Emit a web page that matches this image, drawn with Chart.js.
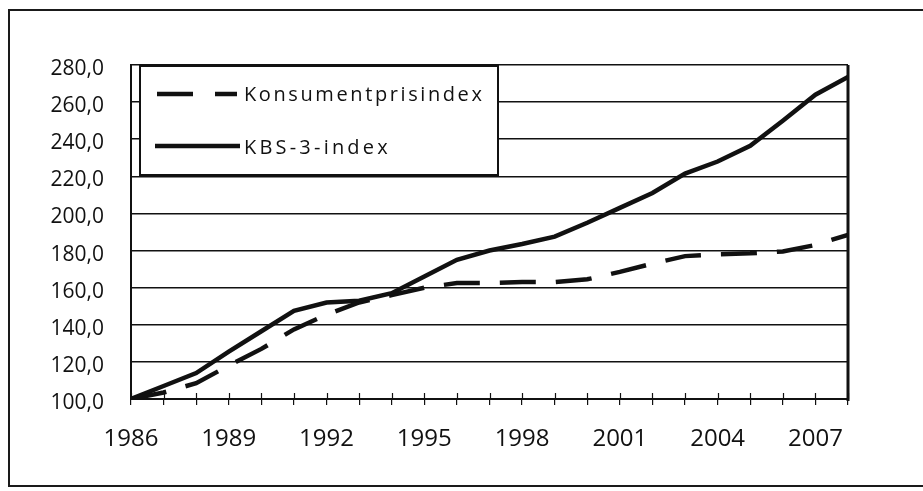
<!DOCTYPE html>
<html>
<head>
<meta charset="utf-8">
<script src="https://cdn.jsdelivr.net/npm/chart.js@4.4.1/dist/chart.umd.min.js"></script>
<style>
  html, body { margin:0; background:#fff; }
  #frame { position:absolute; left:8px; top:9px; width:940px; height:474px; border:2px solid #1a1a1a; }
  #c { position:absolute; left:0; top:0; }
</style>
</head>
<body>
<div id="frame"></div>
<canvas id="c" width="923" height="491"></canvas>
<script>
// values (index, 1986 = 100)
const years = [1986,1987,1988,1989,1990,1991,1992,1993,1994,1995,1996,1997,1998,1999,2000,2001,2002,2003,2004,2005,2006,2007,2008];
const kpi   = [100,103.5,108.5,118,127,137.5,145.5,152,156,160,162.5,162.5,163,163,164.5,168.5,173,177,178,178.5,179.5,183,188.5];
const kbs3  = [100,107,114,125.5,136.5,147.5,152,153,157,166,175,180,183.5,187.5,195,203,211,221.5,228,236.5,250,264,273.5];
const xTickLabels = [1986,1989,1992,1995,1998,2001,2004,2007];
const seriesNames = ['Konsumentprisindex', 'KBS-3-index'];

const INK = '#111';

// legend box inside the plot + tick marks above the axis + right border
const extras = {
  id: 'extras',
  afterDraw(chart){
    const {ctx, chartArea:a, scales} = chart;
    const xs = scales.x;
    ctx.save();
    ctx.strokeStyle = INK;
    // small ticks crossing the x axis
    ctx.lineWidth = 1.2;
    years.forEach(y=>{
      const px = Math.round(xs.getPixelForValue(y)) + 0.5;
      ctx.beginPath(); ctx.moveTo(px, a.bottom - 6); ctx.lineTo(px, a.bottom); ctx.stroke();
    });
    // right border
    ctx.lineWidth = 3;
    ctx.beginPath(); ctx.moveTo(a.right, a.top); ctx.lineTo(a.right, a.bottom + 2); ctx.stroke();

    // legend
    const lx = a.left + 9, ly = a.top + 1, lw = 358, lh = 109;
    ctx.fillStyle = '#fff';
    ctx.fillRect(lx, ly, lw, lh);
    ctx.lineWidth = 2;
    ctx.strokeRect(lx, ly, lw, lh);

    ctx.lineWidth = 4.5;
    ctx.setLineDash([36, 22]);
    ctx.beginPath(); ctx.moveTo(lx + 17, ly + 28); ctx.lineTo(lx + 97, ly + 28); ctx.stroke();
    ctx.setLineDash([]);
    ctx.beginPath(); ctx.moveTo(lx + 15, ly + 80); ctx.lineTo(lx + 100, ly + 80); ctx.stroke();

    ctx.fillStyle = INK;
    ctx.font = '20px "Open Sans"';
    ctx.textBaseline = 'middle';
    ctx.letterSpacing = '2.6px';
    ctx.fillText(seriesNames[0], lx + 104, ly + 29);
    ctx.letterSpacing = '3.2px';
    ctx.fillText(seriesNames[1], lx + 104, ly + 82);
    ctx.restore();
  }
};

new Chart(document.getElementById('c').getContext('2d'), {
  type: 'line',
  data: {
    datasets: [
      { label: seriesNames[0], data: years.map((y,i)=>({x:y, y:kpi[i]})),
        borderColor: INK, borderWidth: 4.5, borderDash: [36, 20], pointRadius: 0, tension: 0 },
      { label: seriesNames[1], data: years.map((y,i)=>({x:y, y:kbs3[i]})),
        borderColor: INK, borderWidth: 4.5, pointRadius: 0, tension: 0 }
    ]
  },
  options: {
    responsive: false,
    animation: false,
    layout: { padding: { top: 65, right: 75, bottom: 0, left: 0 } },
    plugins: { legend: { display: false }, tooltip: { enabled: false } },
    scales: {
      x: {
        type: 'linear', min: 1986, max: 2008,
        afterFit: s => { s.height = 92; },
        border: { display: true, color: INK, width: 2 },
        grid: { drawOnChartArea: false, drawTicks: true, tickLength: 6, color: INK, lineWidth: 1.2 },
        ticks: {
          stepSize: 1, autoSkip: false, maxRotation: 0, padding: 20, color: INK,
          font: { family: '"Open Sans"', size: 24 },
          callback: v => xTickLabels.includes(v) ? String(v) : ''
        }
      },
      y: {
        min: 100, max: 280,
        afterFit: s => { s.width = 131; },
        border: { display: true, color: INK, width: 2 },
        grid: { color: INK, lineWidth: 1.6, drawTicks: false },
        ticks: {
          stepSize: 20, padding: 27, labelOffset: 4, color: INK,
          font: { family: '"Open Sans"', size: 21 },
          callback: v => v.toFixed(1).replace('.', ',')
        }
      }
    }
  },
  plugins: [extras]
});
</script>
</body>
</html>
